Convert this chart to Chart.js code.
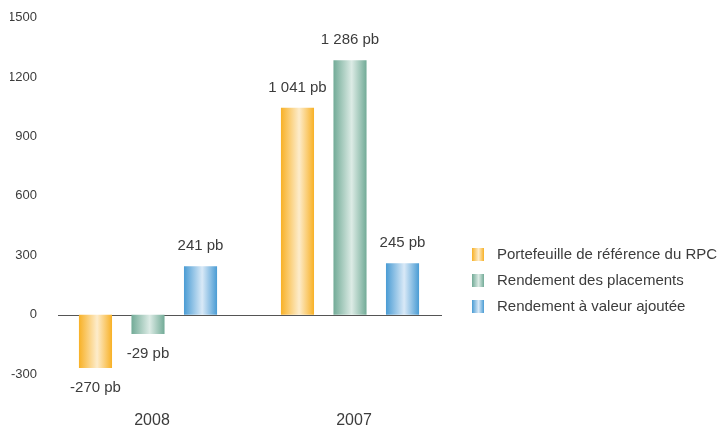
<!DOCTYPE html>
<html lang="fr">
<head>
<meta charset="utf-8">
<title>Rendement</title>
<script src="https://cdn.jsdelivr.net/npm/chart.js@4/dist/chart.umd.min.js"></script>
<style>
  html, body { margin: 0; padding: 0; background: #fff; overflow: hidden; }
  canvas { display: block; }
</style>
</head>
<body>
<canvas id="graph" width="725" height="432"></canvas>
<script>
// Donnees
const annees = ["2008", "2007"];
const series = ["Portefeuille de référence du RPC", "Rendement des placements", "Rendement à valeur ajoutée"];
const portefeuille = [-270, 1045];
const placements = [-98, 1285];
const valeurAjoutee = [245, 260];
const etiquettesPortefeuille = ["-270 pb", "1 041 pb"];
const etiquettesPlacements = ["-29 pb", "1 286 pb"];
const etiquettesValeur = ["241 pb", "245 pb"];
const graduations = [-300, 0, 300, 600, 900, 1200, 1500];

// Couleurs : bord fonce, centre clair (effet cylindre)
const teintes = [
  { bord: "#f8b126", centre: "#fdeccb" },
  { bord: "#72ab97", centre: "#dcebe5" },
  { bord: "#4a9cd4", centre: "#d9e9f7" },
];
const police = "'Liberation Sans', Arial, Helvetica, sans-serif";
const couleurTexte = "#3c3c3c";

function degrade(ctx, x0, largeur, t) {
  const g = ctx.createLinearGradient(x0, 0, x0 + largeur, 0);
  g.addColorStop(0, t.bord);
  g.addColorStop(0.55, t.centre);
  g.addColorStop(1, t.bord);
  return g;
}

// Degrades horizontaux sur chaque barre
const pluginDegrade = {
  id: "degrade",
  beforeDatasetsDraw(chart) {
    const ctx = chart.ctx;
    chart.data.datasets.forEach((ds, i) => {
      chart.getDatasetMeta(i).data.forEach(el => {
        const x0 = el.x - el.width / 2;
        el.options = Object.assign({}, el.options, { backgroundColor: degrade(ctx, x0, el.width, teintes[i]) });
      });
    });
  },
};

// Ligne du zero
const pluginZero = {
  id: "zero",
  beforeDatasetsDraw(chart) {
    const { ctx, chartArea, scales } = chart;
    const y = Math.round(scales.y.getPixelForValue(0)) + 0.5;
    ctx.save();
    ctx.strokeStyle = "#555";
    ctx.lineWidth = 1;
    ctx.beginPath();
    ctx.moveTo(chartArea.left + 11, y);
    ctx.lineTo(chartArea.right - 9, y);
    ctx.stroke();
    ctx.restore();
  },
};

// Etiquettes "pb" au-dessus / au-dessous des barres
const pluginEtiquettes = {
  id: "etiquettes",
  afterDatasetsDraw(chart) {
    const ctx = chart.ctx;
    ctx.save();
    ctx.font = "15px " + police;
    ctx.fillStyle = couleurTexte;
    ctx.textAlign = "center";
    ctx.textBaseline = "middle";
    chart.data.datasets.forEach((ds, i) => {
      chart.getDatasetMeta(i).data.forEach((el, j) => {
        const v = ds.data[j];
        const y = v >= 0 ? el.y - 20 : el.y + 20;
        ctx.fillText(ds.etiquettes[j], el.x, y);
      });
    });
    ctx.restore();
  },
};

// Legende a droite
const pluginLegende = {
  id: "legende",
  afterDraw(chart) {
    const ctx = chart.ctx;
    const x = chart.chartArea.right + 21;
    const y0 = 255;
    ctx.save();
    ctx.font = "15px " + police;
    ctx.textBaseline = "middle";
    chart.data.datasets.forEach((ds, i) => {
      const y = y0 + i * 26;
      ctx.fillStyle = degrade(ctx, x, 12, teintes[i]);
      ctx.fillRect(x, y - 7, 12, 13);
      ctx.fillStyle = couleurTexte;
      ctx.fillText(ds.label, x + 25, y);
    });
    ctx.restore();
  },
};

new Chart(document.getElementById("graph"), {
  type: "bar",
  data: {
    labels: annees,
    datasets: [
      { label: series[0], data: portefeuille, etiquettes: etiquettesPortefeuille, backgroundColor: teintes[0].bord },
      { label: series[1], data: placements, etiquettes: etiquettesPlacements, backgroundColor: teintes[1].bord },
      { label: series[2], data: valeurAjoutee, etiquettes: etiquettesValeur, backgroundColor: teintes[2].bord },
    ],
  },
  options: {
    responsive: false,
    animation: false,
    categoryPercentage: 0.78,
    barPercentage: 0.63,
    layout: { padding: { left: 10, right: 274, top: 8, bottom: 3 } },
    plugins: { legend: { display: false }, tooltip: { enabled: false } },
    scales: {
      x: {
        afterFit(axe) { axe.height = 55; },
        grid: { display: false, drawTicks: false },
        border: { display: false },
        ticks: { padding: 37, labelOffset: 4, color: couleurTexte, font: { family: police, size: 16 } },
      },
      y: {
        min: -300,
        max: 1500,
        afterFit(axe) { axe.width = 37; },
        afterBuildTicks(axe) { axe.ticks = graduations.map(v => ({ value: v })); },
        grid: { display: false, drawTicks: false },
        border: { display: false },
        ticks: { padding: 10, color: couleurTexte, font: { family: police, size: 13 }, callback: v => String(v) },
      },
    },
  },
  plugins: [pluginDegrade, pluginZero, pluginEtiquettes, pluginLegende],
});
</script>
</body>
</html>
